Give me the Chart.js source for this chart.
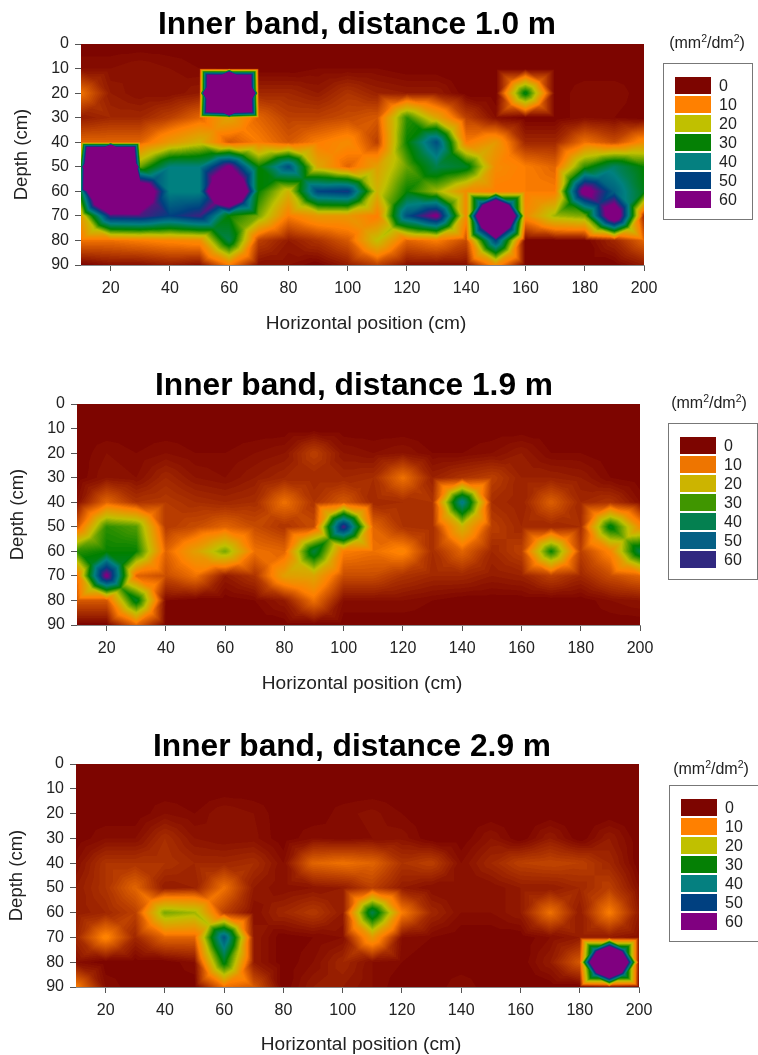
<!DOCTYPE html>
<html>
<head>
<meta charset="utf-8">
<script src="https://cdn.jsdelivr.net/npm/chart.js@4/dist/chart.umd.min.js"></script>
<style>
  html, body { margin: 0; padding: 0; background: #fff; }
  body { position: relative; width: 758px; height: 1055px; overflow: hidden; font-family: "Liberation Sans", Arial, sans-serif; color: #222; }
  canvas { position: absolute; left: 0; }
  .label { position: absolute; white-space: nowrap; transform: translate(-50%, -50%); line-height: 1.2; }
  .chart-title { font-size: 31.7px; font-weight: bold; color: #000; }
  .x-title { font-size: 19.1px; }
  .unit { font-size: 16px; }
  .unit sup { font-size: 10.5px; line-height: 0; }
  .legend { position: absolute; border: 1px solid #777; box-sizing: border-box; height: 157px; background: #fff; }
  .swatch { position: absolute; left: 11px; width: 36px; height: 17px; }
  .swatch-label { position: absolute; left: 55px; font-size: 16px; line-height: 17px; }
</style>
</head>
<body>
<canvas id="chart-1" width="714" height="340" style="top:0"></canvas>
<canvas id="chart-2" width="708" height="340" style="top:360px"></canvas>
<canvas id="chart-3" width="704" height="335" style="top:720px"></canvas>

<script>
const positions = [10, 20, 30, 40, 50, 60, 70, 80, 90, 100, 110, 120, 130, 140, 150, 160, 170, 180, 190, 200];
const depths = [0, 10, 20, 30, 40, 50, 60, 70, 80, 90];
const xTicks = [20, 40, 60, 80, 100, 120, 140, 160, 180, 200];
const levels = [0, 10, 20, 30, 40, 50, 60];

const distance10 = [
  [0, 0, 0, 0, 0, 0, 0, 0, 0, 0, 0, 0, 0, 0, 0, 0, 0, 0, 0, 0],
  [1, 1, 1.5, 1, 0.5, 0, 0, 0, 0.5, 0.5, 0.5, 0, 0, 0, 0, 0, 0, 0, 0, 0],
  [9, 2, 1, 1, 2, 450, 3, 3, 2, 4, 2.5, 2, 2, 0, 0, 32, 0, 1, 1, 0],
  [2, 3, 3, 5, 8, 16, 8, 5, 5, 6, 7, 28, 16, 5, 1, 0, 0, 1, 0.5, 0],
  [8, 8, 8, 14, 18, 7, 10, 7, 10, 12, 5, 30, 48, 10, 14, 3, 3, 9, 6, 12],
  [30, 500, 25, 40, 40, 62, 30, 48, 16, 8, 15, 25, 36, 33, 12, 10, 8, 28, 38, 30],
  [35, 150, 80, 40, 40, 110, 30, 18, 50, 52, 18, 30, 22, 12, 10, 10, 10, 66, 45, 32],
  [15, 55, 56, 50, 55, 30, 24, 10, 14, 14, 10, 48, 62, 12, 150, 12, 22, 24, 75, 3],
  [9, 9, 10, 11, 12, 36, 5, 2, 4, 7, 20, 8, 10, 6, 50, 0, 0, 0, 3, 8],
  [0, 1, 1, 2, 1, 10, 1, 1, 0, 2, 5, 1, 1, 1, 12, 0, 0, 0, 0, 2],
];

const distance19 = [
  [0, 0, 0, 0, 0, 0, 0, 0, 0, 0, 0, 0, 0, 0, 0, 0, 0, 0, 0, 0],
  [0, 0, 0, 0, 0, 0, 0, 0, 0, 0, 0, 0, 0, 0, 0, 0, 0, 0, 0, 0],
  [0, 1, 0.5, 1, 0.5, 0.5, 1, 1.5, 5, 1.5, 1, 1.5, 0.5, 0.5, 1, 2, 0.5, 0.5, 0, 0],
  [0, 1.5, 1, 3, 1.5, 1, 2, 3, 3, 3, 3.5, 9, 2.5, 4, 5, 2.5, 2.5, 2, 0.5, 0],
  [1, 8, 4, 4.5, 3.5, 3, 3.5, 9, 4, 7, 3, 3.5, 4, 42, 3.5, 2.5, 7.5, 3, 4, 1],
  [7, 28, 26, 4.5, 6, 8, 6, 4, 6, 56, 8, 4, 3.5, 18, 5, 3, 3, 3.5, 32, 12],
  [28, 30, 30, 8, 15, 24, 9, 8, 35, 10, 9, 11, 3.5, 8, 3, 5, 30, 5, 11, 36],
  [9, 62, 8, 6, 9, 2, 4, 15, 16, 6, 6, 4, 3, 3, 2, 2.5, 5, 3, 6, 8],
  [7, 7, 33, 0.5, 0, 0, 0.5, 2, 9, 1, 1, 1, 0.5, 0, 0, 0, 0, 0, 1, 1.5],
  [0, 0, 8, 0, 0, 0, 0, 0, 0, 0, 0, 0, 0, 0, 0, 0, 0, 0, 0, 0],
];

const distance29 = [
  [0, 0, 0, 0, 0, 0, 0, 0, 0, 0, 0, 0, 0, 0, 0, 0, 0, 0, 0, 0],
  [0, 0, 0, 0, 0, 0, 0, 0, 0, 0, 0, 0, 0, 0, 0, 0, 0, 0, 0, 0],
  [0, 0, 0, 1, 0.5, 1.5, 1, 0, 0, 0.8, 1.2, 0.5, 0, 0, 0, 0, 0, 0, 0, 0],
  [0, 1, 1, 3.5, 1.5, 1, 1.2, 0, 1, 0.6, 1, 1.3, 0, 0, 1.5, 0, 2, 0, 2, 0],
  [1, 4, 4, 4, 3, 3, 3.5, 1, 8, 9, 8, 4, 5, 1, 3, 5, 5.5, 5, 3, 0],
  [2, 4, 8, 2, 2.5, 9, 2, 1, 1.5, 2, 5, 2, 1, 1, 1, 2, 2, 3, 5, 1],
  [2, 3, 5, 24, 22, 5, 1, 3, 4.5, 2, 36, 10, 3, 1, 1, 2, 9, 2, 10, 2],
  [3, 11, 3, 8, 8, 47, 2, 0, 0.5, 1, 14, 1, 0.5, 0, 0, 0, 1, 2, 2, 1],
  [1, 0, 0, 0, 1, 32, 2, 0, 1, 3, 1, 0.5, 0, 0, 0, 0, 2, 7, 160, 1],
  [10, 1, 0, 0, 0, 9, 7, 0, 2, 2, 1, 0, 0, 1, 0, 0, 0, 0, 1, 0],
];

// colours at 0, 10, ... 60
const ramp = [[125, 5, 0], [255, 128, 0], [192, 192, 0], [0, 128, 0], [0, 128, 128], [0, 64, 128], [128, 0, 128]];
const legendColors = ['#7d0500', '#ff8000', '#c0c000', '#058005', '#058080', '#004080', '#800080'];
const legendColorsMiddle = ['#7d0500', '#ee7500', '#ccb400', '#409600', '#048050', '#056085', '#302880'];

const colorFor = (value) => {
  const v = Math.max(0, Math.min(60, Math.floor(value * 2) / 2));
  const i = Math.min(5, Math.floor(v / 10));
  const t = (v - i * 10) / 10;
  return ramp[i].map((c, k) => c + (ramp[i + 1][k] - c) * t);
};

// each grid cell is split into 4 triangles around the mean of its corners
const valueAt = (rows, xv, yv) => {
  const u = (xv - positions[0]) / 10;
  const w = (yv - depths[0]) / 10;
  const c = Math.max(0, Math.min(positions.length - 2, Math.floor(u)));
  const r = Math.max(0, Math.min(depths.length - 2, Math.floor(w)));
  const fx = u - c;
  const fy = w - r;
  const a = rows[r][c];
  const b = rows[r][c + 1];
  const d = rows[r + 1][c];
  const e = rows[r + 1][c + 1];
  const m = (a + b + d + e) / 4;
  if (fy <= fx && fy <= 1 - fx) return 2 * fy * m + (fx - fy) * b + (1 - fx - fy) * a;
  if (fy >= fx && fy >= 1 - fx) return 2 * (1 - fy) * m + (fx + fy - 1) * e + (fy - fx) * d;
  if (fx <= fy && fx <= 1 - fy) return 2 * fx * m + (fy - fx) * d + (1 - fx - fy) * a;
  return 2 * (1 - fx) * m + (fx + fy - 1) * e + (fx - fy) * b;
};

const contourPlugin = (rows) => ({
  id: 'contour',
  beforeDatasetsDraw(chart) {
    const { ctx, chartArea: area, scales } = chart;
    const scale = 2;
    const w = Math.round(area.width * scale);
    const h = Math.round(area.height * scale);
    const off = document.createElement('canvas');
    off.width = w;
    off.height = h;
    const offCtx = off.getContext('2d');
    const img = offCtx.createImageData(w, h);
    for (let py = 0; py < h; py++) {
      const yv = scales.y.getValueForPixel(area.top + (py + 0.5) / scale);
      for (let px = 0; px < w; px++) {
        const xv = scales.x.getValueForPixel(area.left + (px + 0.5) / scale);
        const col = colorFor(valueAt(rows, xv, yv));
        const i = (py * w + px) * 4;
        img.data[i] = col[0];
        img.data[i + 1] = col[1];
        img.data[i + 2] = col[2];
        img.data[i + 3] = 255;
      }
    }
    offCtx.putImageData(img, 0, 0);
    ctx.save();
    ctx.beginPath();
    ctx.rect(area.left, area.top, area.width, area.height);
    ctx.clip();
    ctx.imageSmoothingEnabled = true;
    // sharp copy underneath so the blur does not fade at the plot edges
    ctx.drawImage(off, area.left, area.top, area.width, area.height);
    ctx.filter = 'blur(0.7px)';
    ctx.drawImage(off, area.left, area.top, area.width, area.height);
    ctx.restore();
  },
});

const initPanel = (id, rows, plot) => {
  const points = [];
  depths.forEach((y, r) => positions.forEach((x, c) => points.push({ x, y, v: rows[r][c] })));

  return new Chart(document.getElementById(id), {
    type: 'scatter',
    data: { datasets: [{ data: points, pointRadius: 0 }] },
    plugins: [contourPlugin(rows)],
    options: {
      responsive: false,
      animation: false,
      events: [],
      layout: { padding: { top: plot.top, right: plot.right } },
      plugins: {
        legend: { display: false },
        tooltip: { enabled: false },
      },
      scales: {
        x: {
          type: 'linear',
          min: 10,
          max: 200,
          afterBuildTicks: (s) => { s.ticks = xTicks.map((value) => ({ value })); },
          afterFit: (s) => { s.height = plot.height - plot.bottom; },
          grid: { drawOnChartArea: false, tickLength: 6, tickColor: '#555' },
          border: { color: '#8a8a8a' },
          ticks: { color: '#222', padding: 8, maxRotation: 0, font: { family: '"Liberation Sans"', size: 16 } },
        },
        y: {
          type: 'linear',
          reverse: true,
          min: 0,
          max: 90,
          afterBuildTicks: (s) => { s.ticks = depths.map((value) => ({ value })); },
          afterFit: (s) => { s.width = plot.left; },
          grid: { drawOnChartArea: false, tickLength: 6, tickColor: '#555' },
          border: { color: '#8a8a8a' },
          ticks: { color: '#222', padding: 6, font: { family: '"Liberation Sans"', size: 16 } },
          title: {
            display: true,
            text: 'Depth (cm)',
            color: '#222',
            font: { family: '"Liberation Sans"', size: 18.5, lineHeight: 1.2 },
            padding: { top: plot.yTitle - 11, bottom: 0 },
          },
        },
      },
    },
  });
};

const addLabel = (cls, x, y, html) => {
  const el = document.createElement('div');
  el.className = 'label ' + cls;
  el.style.left = x + 'px';
  el.style.top = y + 'px';
  el.innerHTML = html;
  document.body.appendChild(el);
};

const addLegend = (left, top, width, colors) => {
  const box = document.createElement('div');
  box.className = 'legend';
  box.style.left = left + 'px';
  box.style.top = top + 'px';
  box.style.width = width + 'px';
  levels.forEach((level, i) => {
    const swatch = document.createElement('div');
    swatch.className = 'swatch';
    swatch.style.top = 13 + i * 19 + 'px';
    swatch.style.background = colors[i];
    const label = document.createElement('div');
    label.className = 'swatch-label';
    label.style.top = 13 + i * 19 + 'px';
    label.textContent = level;
    box.appendChild(swatch);
    box.appendChild(label);
  });
  document.body.appendChild(box);
};

initPanel('chart-1', distance10, { left: 81, right: 70, top: 44, bottom: 265, height: 340, yTitle: 22 });
initPanel('chart-2', distance19, { left: 77, right: 68, top: 44, bottom: 265, height: 340, yTitle: 18 });
initPanel('chart-3', distance29, { left: 76, right: 65, top: 44, bottom: 267, height: 335, yTitle: 17 });

const unitText = '(mm<sup>2</sup>/dm<sup>2</sup>)';

addLabel('chart-title', 357, 23, 'Inner band, distance 1.0 m');
addLabel('x-title', 366, 323, 'Horizontal position (cm)');
addLabel('unit', 707, 43, unitText);
addLegend(663, 63, 90, legendColors);

addLabel('chart-title', 354, 384, 'Inner band, distance 1.9 m');
addLabel('x-title', 362, 683, 'Horizontal position (cm)');
addLabel('unit', 709, 403, unitText);
addLegend(668, 423, 90, legendColorsMiddle);

addLabel('chart-title', 352, 745, 'Inner band, distance 2.9 m');
addLabel('x-title', 361, 1044, 'Horizontal position (cm)');
addLabel('unit', 711, 769, unitText);
addLegend(669, 785, 92, legendColors);
</script>
</body>
</html>
